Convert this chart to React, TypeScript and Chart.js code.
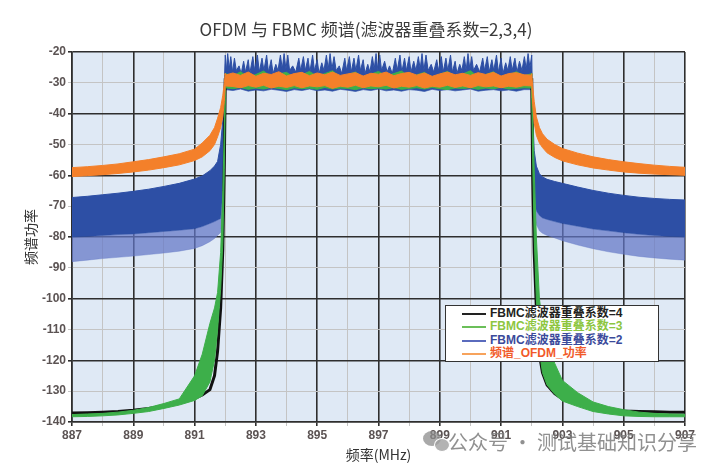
import React, { useEffect, useRef } from "react";
import { Chart, registerables } from "chart.js";

Chart.register(...registerables);

// ---------- frequency grids (MHz) ----------
const L_FREQ = [887, 887.5, 888, 888.5, 889, 889.5, 890, 890.5, 891, 891.25, 891.5, 891.65, 891.75, 891.85, 891.92, 891.97, 892.0];
const R_FREQ = [902.0, 902.03, 902.08, 902.15, 902.25, 902.35, 902.5, 902.75, 903, 903.5, 904, 904.5, 905, 905.5, 906, 906.5, 907];
const BAND_FREQ = [
  892.0, 892.25, 892.5, 892.75, 893.0, 893.25, 893.5, 893.75, 894.0, 894.25, 894.5, 894.75, 895.0, 895.25,
  895.5, 895.75, 896.0, 896.25, 896.5, 896.75, 897.0, 897.25, 897.5, 897.75, 898.0, 898.25, 898.5, 898.75,
  899.0, 899.25, 899.5, 899.75, 900.0, 900.25, 900.5, 900.75, 901.0, 901.25, 901.5, 901.75, 902.0,
];

// ---------- OFDM spectrum (orange band: upper / lower envelope, dB) ----------
const OFDM_L_HI = [-57.5, -57.2, -56.8, -56.3, -55.6, -54.9, -54.0, -53.0, -51.5, -49.5, -47, -44.5, -41.5, -38, -34, -30, -27];
const OFDM_L_LO = [-60.4, -60.1, -59.8, -59.4, -58.9, -58.3, -57.5, -56.6, -55.2, -54, -52, -50, -47.5, -44.5, -41, -36, -31];
const OFDM_BAND_HI = [
  -27.5, -26.8, -27.6, -26.5, -27.9, -26.9, -27.3, -26.4, -27.8, -27, -26.6, -27.7, -26.8, -27.4, -26.5, -27.6, -27.1,
  -26.7, -27.8, -26.9, -27.2, -26.5, -27.7, -27, -26.6, -27.5, -26.8, -27.9, -27.1, -26.5, -27.4, -26.9, -27.6, -26.7,
  -27.3, -26.6, -27.8, -27, -26.7, -27.4, -27.5,
];
const OFDM_BAND_LO = [
  -31, -31.2, -31.6, -30.9, -31.4, -30.8, -31.7, -31.1, -31.5, -30.9, -31.6, -31, -31.3, -30.9, -31.8, -31.1, -31.4,
  -30.8, -31.6, -31, -31.3, -30.8, -31.7, -31.1, -31.4, -30.9, -31.7, -31.1, -31.4, -30.8, -31.5, -31, -31.6, -30.9,
  -31.3, -31, -31.6, -31.1, -31.4, -30.9, -31,
];
const OFDM_R_HI = [-27, -31, -36, -41, -44.5, -46.5, -48.3, -50, -51.3, -52.8, -54, -54.9, -55.6, -56.2, -56.7, -57.1, -57.4];
const OFDM_R_LO = [-31, -37, -43, -47, -49.5, -51, -52.7, -54.2, -55.3, -56.6, -57.6, -58.3, -58.9, -59.3, -59.6, -59.8, -60];

// ---------- FBMC K=3 (green band) ----------
const K3_L_HI = [-137.6, -137.4, -137.2, -136.8, -136.2, -135.3, -134, -132.5, -125, -118, -108, -103, -98, -85, -65, -45, -30];
const K3_L_LO = [-138.3, -138.2, -138, -137.7, -137.2, -136.6, -135.6, -134.5, -133, -131.5, -127, -120, -110, -97, -82, -58, -35];
const K3_BAND_HI = [
  -27, -27.8, -26.4, -28.2, -27.3, -26.2, -28, -27.1, -26.6, -28.3, -27.4, -26.3, -27.9, -27, -26.1, -28.1, -27.3,
  -26.5, -28.2, -27.2, -26.3, -27.8, -27, -26.2, -28, -27.4, -26.6, -28.3, -27.2, -26.3, -27.9, -27.1, -26.1, -28.1,
  -27.3, -26.4, -28.2, -27.4, -26.4, -27.7, -27,
];
const K3_BAND_LO = [
  -31.6, -31.9, -31.5, -32.1, -31.7, -32, -31.5, -31.8, -32.2, -31.6, -31.9, -31.7, -32.1, -31.5, -32, -31.7, -31.8,
  -32.2, -31.6, -31.9, -31.7, -32, -31.5, -32.1, -31.8, -31.6, -32, -31.5, -31.9, -32.2, -31.7, -31.8, -31.6, -32.1,
  -31.7, -31.9, -31.5, -32, -31.8, -31.6, -31.7,
];
const K3_R_HI = [-28, -40, -58, -80, -100, -108, -114, -121, -126.5, -130.5, -133.5, -135, -136, -136.8, -137.2, -137.4, -137.5];
const K3_R_LO = [-35, -55, -80, -100, -117, -124, -128, -131, -133.2, -135, -136.6, -137.4, -138, -138.2, -138.3, -138.3, -138.3];

// ---------- FBMC K=4 (black line) ----------
const K4_L = [-137.1, -137, -136.8, -136.6, -136.2, -135.6, -134.8, -133.8, -132.3, -131.2, -129.5, -125, -117, -103, -84, -56, -30];
const K4_BAND_FREQ = [892.0, 894.5, 897.0, 899.5, 902.0];
const K4_BAND = [-29, -29.5, -29, -29.5, -29];
const K4_R = [-30, -60, -85, -103, -118, -124, -128, -130.8, -132.5, -134.3, -135.4, -136, -136.4, -136.6, -136.7, -136.8, -136.8];

// ---------- FBMC K=2 (blue band: top, dense bottom, faint bottom) ----------
const K2_L_TOP = [-67.2, -66.8, -66.3, -65.8, -65.2, -64.5, -63.6, -62.6, -61.2, -60.2, -58.5, -57, -55.5, -50, -42, -30, -21];
const K2_L_MID = [-80, -79.8, -79.5, -79.2, -79, -78.6, -78.2, -77.8, -77.3, -76.6, -75.6, -75, -74.5, -74, -66, -50, -32];
const K2_L_LOW = [-88, -87.5, -87, -86.6, -86.2, -85.7, -85.2, -84.6, -83.7, -82.8, -81.5, -80.5, -79.5, -78.5, -70, -52, -32];
const K2_R_TOP = [-21, -40, -52, -57, -59.5, -60.5, -61.3, -62, -62.6, -63.8, -64.9, -65.8, -66.5, -67.1, -67.5, -67.8, -68];
const K2_R_MID = [-32, -60, -68, -71.5, -73, -73.8, -74.3, -75, -75.6, -76.5, -77.4, -78, -78.6, -79.1, -79.5, -79.8, -80];
const K2_R_LOW = [-32, -64, -72, -76, -78, -78.8, -79.5, -80.3, -81.2, -82.6, -83.8, -84.8, -85.6, -86.3, -86.8, -87.2, -87.5];
const K2_BAND_LO = [
  -32.2, -32.5, -32, -32.7, -32.3, -32.6, -32.1, -32.4, -32.8, -32.2, -32.5, -32, -32.6, -32.3, -32.7, -32.1, -32.4,
  -32.8, -32.2, -32.5, -32, -32.6, -32.3, -32.7, -32.2, -32.4, -32.8, -32.1, -32.5, -32.2, -32.6, -32.3, -32, -32.7,
  -32.4, -32.2, -32.6, -32.3, -32.7, -32.2, -32.2,
];
const K2_SPIKE_FREQ = [
  892.0, 892.04, 892.08, 892.13, 892.18, 892.24, 892.3, 892.36, 892.45, 892.52, 892.6, 892.66, 892.75, 892.8, 892.9,
  892.96, 893.05, 893.11, 893.2, 893.26, 893.35, 893.41, 893.5, 893.56, 893.65, 893.72, 893.8, 893.86, 893.92, 893.98,
  894.04, 894.1, 894.2, 894.3, 894.4, 894.46, 894.55, 894.61, 894.7, 894.76, 894.85, 894.91, 895.0, 895.06, 895.15,
  895.22, 895.3, 895.36, 895.42, 895.48, 895.55, 895.62, 895.72, 895.8, 895.9, 895.96, 896.05, 896.11, 896.2, 896.26,
  896.35, 896.41, 896.5, 896.56, 896.65, 896.72, 896.8, 896.86, 896.92, 896.98, 897.04, 897.1, 897.2, 897.28, 897.36,
  897.45, 897.55, 897.61, 897.7, 897.76, 897.85, 897.91, 898.0, 898.06, 898.15, 898.22, 898.3, 898.36, 898.42, 898.48,
  898.55, 898.62, 898.72, 898.8, 898.9, 898.96, 899.05, 899.11, 899.2, 899.26, 899.35, 899.41, 899.5, 899.56, 899.65,
  899.72, 899.8, 899.86, 899.92, 899.98, 900.04, 900.1, 900.2, 900.3, 900.4, 900.46, 900.55, 900.61, 900.7, 900.76,
  900.85, 900.91, 901.0, 901.06, 901.15, 901.22, 901.3, 901.36, 901.45, 901.52, 901.6, 901.68, 901.76, 901.82, 901.88,
  901.94, 902.0,
];
const K2_SPIKE_VAL = [
  -21, -26, -20.5, -25.5, -21.5, -26.5, -22, -26, -24.5, -27, -23, -26.5, -22.5, -27, -21.5,
  -26, -21, -26.5, -22, -26, -21, -26.5, -22.5, -27, -24, -26, -21, -25.5, -20.5, -25.5,
  -21, -26, -24.5, -26.5, -22, -26, -21.5, -26, -22, -26.5, -21, -26, -22.5, -27, -23.5,
  -26, -21, -25.5, -20.5, -25.5, -21.5, -26, -24.5, -27, -22, -26, -21.5, -26.5, -22, -26,
  -21, -26, -22.5, -27, -24, -26.5, -21.5, -25.5, -20.5, -26, -21, -26, -23, -26.5, -24.5,
  -27, -22, -26, -21, -26.5, -22, -26, -21.5, -26.5, -23, -26, -21.5, -25.5, -20.5, -26,
  -21, -26, -24, -26.5, -22.5, -26, -21.5, -26.5, -22, -26, -21, -26.5, -23, -27, -24,
  -26, -21.5, -26, -20.5, -25.5, -21.5, -26, -24, -26.5, -22, -26, -21.5, -26.5, -22.5, -26,
  -21, -26.5, -22, -27, -23.5, -26, -21.5, -26, -22, -26.5, -23, -26, -21.5, -25.5, -20.5,
  -25, -21,
];

// ---------- axes ----------
const X_MIN = 887;
const X_MAX = 907;
const Y_MIN = -140;
const Y_MAX = -20;

const TITLE = "OFDM 与 FBMC 频谱(滤波器重叠系数=2,3,4)";
const X_TITLE = "频率(MHz)";
const Y_TITLE = "频谱功率";
const LEGEND_LABELS = ["FBMC滤波器重叠系数=4", "FBMC滤波器重叠系数=3", "FBMC滤波器重叠系数=2", "频谱_OFDM_功率"];
const LEGEND_TEXT_COLORS = ["#231f20", "#8dc63f", "#3b4a9b", "#f15a29"];
const LEGEND_LINE_COLORS = ["#222222", "#6bbf59", "#5a6bbd", "#f7a35c"];
const WATERMARK = "公众号 · 测试基础知识分享";

type P = { x: number; y: number };
function pts(fs: number[], vs: number[]): P[] {
  return fs.map((x, i) => ({ x, y: vs[i] }));
}

const plotBg = {
  id: "plotBg",
  beforeDraw(chart: any) {
    const { ctx, chartArea } = chart;
    if (!chartArea) return;
    ctx.save();
    ctx.fillStyle = "#dfe9f5";
    ctx.fillRect(chartArea.left, chartArea.top, chartArea.right - chartArea.left, chartArea.bottom - chartArea.top);
    ctx.restore();
  },
};

const ORANGE = "#f4802a";
const GREEN = "#3daf4a";
const BLUE = "#2d4fa5";
const BLUE_LIGHT = "rgba(98,118,198,0.72)";
const CJK = "'Liberation Sans', 'Noto Sans CJK SC', sans-serif";

export default function App() {
  const ref = useRef<HTMLCanvasElement | null>(null);

  useEffect(() => {
    if (!ref.current) return;
    const ofdmTop = [...pts(L_FREQ, OFDM_L_HI), ...pts(BAND_FREQ, OFDM_BAND_HI), ...pts(R_FREQ, OFDM_R_HI)];
    const ofdmBot = [...pts(L_FREQ, OFDM_L_LO), ...pts(BAND_FREQ, OFDM_BAND_LO), ...pts(R_FREQ, OFDM_R_LO)];
    const k3Top = [...pts(L_FREQ, K3_L_HI), ...pts(BAND_FREQ, K3_BAND_HI), ...pts(R_FREQ, K3_R_HI)];
    const k3Bot = [...pts(L_FREQ, K3_L_LO), ...pts(BAND_FREQ, K3_BAND_LO), ...pts(R_FREQ, K3_R_LO)];
    const k4 = [...pts(L_FREQ, K4_L), ...pts(K4_BAND_FREQ, K4_BAND), ...pts(R_FREQ, K4_R)];
    const k2Top = [...pts(L_FREQ, K2_L_TOP), ...pts(K2_SPIKE_FREQ, K2_SPIKE_VAL), ...pts(R_FREQ, K2_R_TOP)];
    const k2Mid = [...pts(L_FREQ, K2_L_MID), ...pts(BAND_FREQ, K2_BAND_LO), ...pts(R_FREQ, K2_R_MID)];
    const k2Low = [...pts(L_FREQ, K2_L_LOW), ...pts(BAND_FREQ, K2_BAND_LO), ...pts(R_FREQ, K2_R_LOW)];

    const common = { pointRadius: 0, pointHoverRadius: 0, tension: 0 };

    const chart = new Chart(ref.current, {
      type: "line",
      data: {
        datasets: [
          { ...common, label: "ofdm-top", data: ofdmTop, borderColor: ORANGE, borderWidth: 1, backgroundColor: ORANGE, fill: "+1" },
          { ...common, label: "ofdm-bot", data: ofdmBot, borderColor: ORANGE, borderWidth: 1, fill: false },
          { ...common, label: "k3-top", data: k3Top, borderColor: GREEN, borderWidth: 1, backgroundColor: GREEN, fill: "+1" },
          { ...common, label: "k3-bot", data: k3Bot, borderColor: GREEN, borderWidth: 1, fill: false },
          { ...common, label: "k4", data: k4, borderColor: "#111111", borderWidth: 3, fill: false },
          { ...common, label: "k2-top", data: k2Top, borderColor: BLUE, borderWidth: 1, backgroundColor: BLUE, fill: "+1" },
          { ...common, label: "k2-mid", data: k2Mid, borderColor: BLUE, borderWidth: 0.5, fill: false },
          { ...common, label: "k2-low", data: k2Low, borderColor: BLUE_LIGHT, borderWidth: 0.5, backgroundColor: BLUE_LIGHT, fill: "-1" },
        ],
      },
      options: {
        animation: false,
        responsive: false,
        maintainAspectRatio: false,
        events: [],
        layout: { padding: { left: 22, right: 35, top: 52, bottom: 8 } },
        plugins: {
          legend: { display: false },
          title: { display: false },
          tooltip: { enabled: false },
        },
        scales: {
          x: {
            type: "linear",
            min: X_MIN,
            max: X_MAX,
            afterFit: (s: any) => {
              s.height = 41;
            },
            ticks: {
              stepSize: 1,
              autoSkip: false,
              maxRotation: 0,
              padding: 2,
              color: "#5b5353",
              font: { family: "Liberation Sans", size: 12, weight: "bold" },
              callback: (v: any) => ((Number(v) - X_MIN) % 2 === 0 ? String(v) : ""),
            },
            grid: {
              color: (c: any) => ((c.tick.value - X_MIN) % 2 === 0 ? "#2e2e2e" : "#c4c4c4"),
              lineWidth: (c: any) => ((c.tick.value - X_MIN) % 2 === 0 ? 1.6 : 1),
              tickLength: 4,
            },
            border: { display: true, color: "#2e2e2e", width: 1.6 },
            title: {
              display: true,
              text: X_TITLE,
              color: "#333333",
              font: { family: "Noto Sans CJK SC", size: 14 },
              padding: 0,
            },
          },
          y: {
            type: "linear",
            min: Y_MIN,
            max: Y_MAX,
            afterFit: (s: any) => {
              s.width = 50;
            },
            ticks: {
              stepSize: 10,
              autoSkip: false,
              padding: 2,
              color: "#5b5353",
              font: { family: "Liberation Sans", size: 12, weight: "bold" },
            },
            grid: {
              color: (c: any) => (c.tick.value % 20 === 0 ? "#2e2e2e" : "#c4c4c4"),
              lineWidth: (c: any) => (c.tick.value % 20 === 0 ? 1.6 : 1),
              tickLength: 4,
            },
            border: { display: true, color: "#2e2e2e", width: 1.6 },
            title: {
              display: true,
              text: Y_TITLE,
              color: "#333333",
              font: { family: "Noto Sans CJK SC", size: 14 },
              padding: 0,
            },
          },
        },
      },
      plugins: [plotBg],
    });
    return () => chart.destroy();
  }, []);

  return (
    <div style={{ position: "fixed", left: 0, top: 0, width: 720, height: 471, background: "#ffffff", overflow: "hidden" }}>
      <canvas ref={ref} width={720} height={471} style={{ position: "absolute", left: 0, top: 0, width: 720, height: 471 }} />
      <div
        style={{
          position: "absolute",
          left: 0,
          width: 732,
          top: 18,
          textAlign: "center",
          fontFamily: "'Noto Sans CJK SC', sans-serif",
          fontSize: 17,
          lineHeight: "22px",
          color: "#3a3a3a",
          whiteSpace: "nowrap",
        }}
      >
        {TITLE}
      </div>
      <div
        style={{
          position: "absolute",
          left: 445,
          top: 305,
          width: 214,
          height: 57,
          boxSizing: "border-box",
          border: "1.5px solid #333",
          background: "#ffffff",
        }}
      >
        {LEGEND_LABELS.map((lab, i) => (
          <React.Fragment key={lab}>
            <div
              style={{
                position: "absolute",
                left: 16,
                width: 24,
                height: 2,
                top: 6.5 + i * 13.6,
                background: LEGEND_LINE_COLORS[i],
              }}
            />
            <div
              style={{
                position: "absolute",
                left: 44,
                top: i * 13.6 - 0.5,
                fontFamily: CJK,
                fontSize: 12,
                fontWeight: 600,
                lineHeight: "15px",
                color: LEGEND_TEXT_COLORS[i],
                whiteSpace: "nowrap",
              }}
            >
              {lab}
            </div>
          </React.Fragment>
        ))}
      </div>
      <div style={{ position: "absolute", left: 423, top: 431, width: 18, height: 15, borderRadius: "50%", background: "rgba(140,140,140,0.75)" }} />
      <div style={{ position: "absolute", left: 434, top: 438, width: 14, height: 12, borderRadius: "50%", background: "rgba(160,160,160,0.8)", border: "1px solid #fff" }} />
      <div
        style={{
          position: "absolute",
          left: 448,
          top: 429,
          fontFamily: "'Noto Sans CJK SC', sans-serif",
          fontSize: 20,
          lineHeight: "26px",
          color: "rgba(125,125,125,0.85)",
          whiteSpace: "nowrap",
        }}
      >
        {WATERMARK}
      </div>
    </div>
  );
}
